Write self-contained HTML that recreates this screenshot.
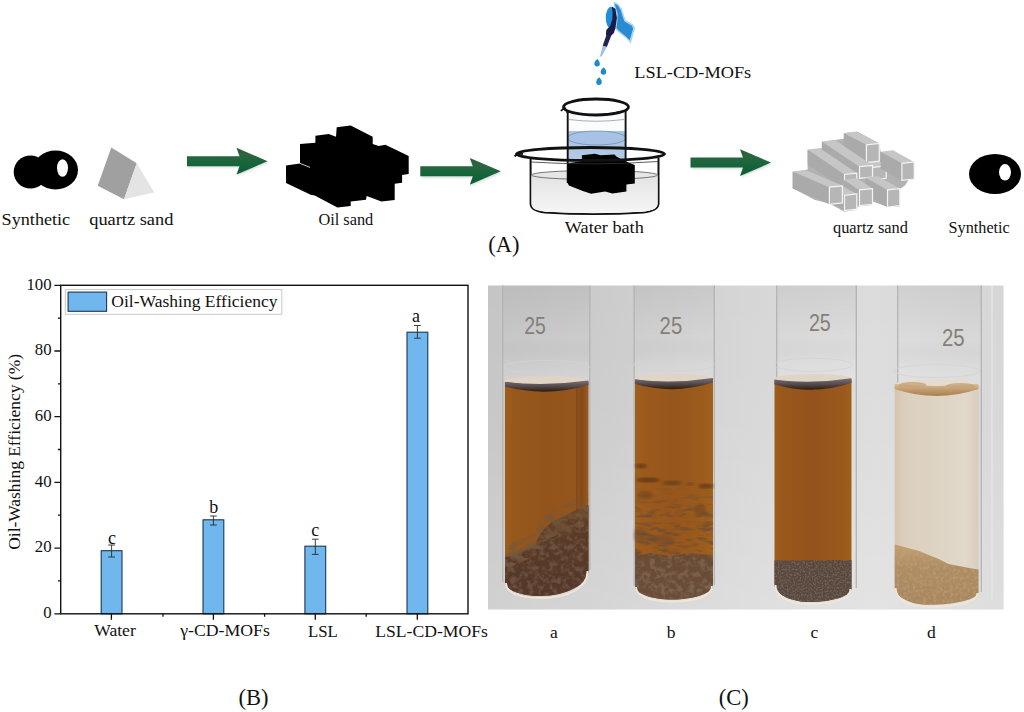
<!DOCTYPE html>
<html><head><meta charset="utf-8"><style>
html,body{margin:0;padding:0;background:#fff;width:1024px;height:712px;overflow:hidden;font-family:"Liberation Serif",serif;}
svg{display:block}
</style></head><body>
<svg width="1024" height="712" viewBox="0 0 1024 712">
<rect width="1024" height="712" fill="#fff"/>
<ellipse cx="30.5" cy="172" rx="16.8" ry="16.6" fill="#000"/>
<ellipse cx="55.5" cy="170" rx="22.5" ry="19.5" fill="#000"/>
<ellipse cx="62.5" cy="168" rx="5.5" ry="8.8" fill="#fff"/>
<polygon points="97.7,185.7 111.3,147.6 136.7,163.2 124,199.3" fill="#a0a0a0"/>
<polygon points="136.7,163.2 154.3,192.5 124,199.3" fill="#e4e4e4"/>
<defs><linearGradient id="agrad" x1="0" y1="0" x2="0" y2="1"><stop offset="0" stop-color="#2c5a3a"/><stop offset="0.25" stop-color="#2a6640"/><stop offset="0.7" stop-color="#12643a"/><stop offset="1" stop-color="#0e5a30"/></linearGradient><filter id="ashadow"><feGaussianBlur stdDeviation="1"/></filter></defs>
<polygon points="188.0,157.8 240.5,157.8 237.5,149.4 268.5,162.8 237.5,176.2 240.5,167.8 188.0,167.8" fill="#9aa89e" opacity="0.35" filter="url(#ashadow)"/><polygon points="187.0,156.2 239.5,156.2 236.5,147.8 267.5,161.2 236.5,174.6 239.5,166.2 187.0,166.2" fill="url(#agrad)"/>
<polygon points="421.3,167.9 473.8,167.9 470.8,159.5 501.8,172.9 470.8,186.3 473.8,177.9 421.3,177.9" fill="#9aa89e" opacity="0.35" filter="url(#ashadow)"/><polygon points="420.3,166.3 472.8,166.3 469.8,157.9 500.8,171.3 469.8,184.7 472.8,176.3 420.3,176.3" fill="url(#agrad)"/>
<polygon points="691.5,159.2 744.0,159.2 741.0,150.8 772.0,164.2 741.0,177.6 744.0,169.2 691.5,169.2" fill="#9aa89e" opacity="0.35" filter="url(#ashadow)"/><polygon points="690.5,157.6 743.0,157.6 740.0,149.2 771.0,162.6 740.0,176.0 743.0,167.6 690.5,167.6" fill="url(#agrad)"/>
<polygon points="286.0,165.4 300.0,163.4 300.0,144.0 315.4,142.7 315.4,135.7 328.7,134.0 336.0,136.7 336.7,127.3 350.7,125.6 372.7,136.7 372.7,144.0 378.7,146.0 385.4,144.7 408.7,156.0 408.7,174.0 402.1,175.0 402.1,182.7 394.7,183.8 394.7,200.0 381.4,201.6 366.7,196.0 366.0,199.8 350.7,201.6 350.7,206.0 337.4,207.6 314.7,195.4 310.7,194.7 286.0,183.0" fill="#000"/>
<line x1="300" y1="163.4" x2="310" y2="167.4" stroke="#fff" stroke-width="0.8"/>
<path d="M530.6,158 L530.6,204 Q531,211 545,212.5 Q594,215.5 643,212.5 Q658,211 658.5,204 L658.5,158" fill="#fff" stroke="#111" stroke-width="2"/>
<defs><linearGradient id="wg" x1="0" y1="0" x2="0" y2="1"><stop offset="0" stop-color="#e2e2e2"/><stop offset="1" stop-color="#f6f6f6"/></linearGradient><linearGradient id="bg" x1="0" y1="0" x2="0" y2="1"><stop offset="0" stop-color="#a9c3e2"/><stop offset="1" stop-color="#bcd0e8"/></linearGradient></defs>
<path d="M531.4,175 Q594,170 657.7,175 L657.7,204 Q657,210.5 643,211.7 Q594,214.6 545,211.7 Q531.5,210.5 531.4,204 Z" fill="url(#wg)"/>
<ellipse cx="594.5" cy="175" rx="63" ry="4.5" fill="#e6e6e6" stroke="#444" stroke-width="0.7"/>
<rect x="567.5" y="110" width="58.5" height="73" fill="#fbfcfd"/>
<path d="M567.5,131 L626,131 L626,183 L567.5,183 Z" fill="url(#bg)"/>
<ellipse cx="596.7" cy="138" rx="29.2" ry="7" fill="#a6c2e4" stroke="#6a7f99" stroke-width="0.6"/>
<line x1="567.7" y1="110" x2="567.7" y2="183" stroke="#111" stroke-width="1.9"/>
<line x1="625.6" y1="110" x2="625.6" y2="175" stroke="#111" stroke-width="1.9"/>
<path d="M569,119.5 Q596,123 624,119.5" fill="none" stroke="#777" stroke-width="0.6"/>
<ellipse cx="596" cy="107" rx="32.5" ry="8" fill="#fff" stroke="#111" stroke-width="2.8"/>
<path d="M561,111 Q563,108 566,108.5" fill="none" stroke="#111" stroke-width="1.8"/>
<path d="M566,112 Q596,118 627,110" fill="none" stroke="#111" stroke-width="1"/>
<polygon points="567.5,163.2 581.9,161.3 581.9,155.3 594.9,153.7 600.5,155.3 614.4,154.4 616.7,156.7 625.5,161.3 634.8,165.0 634.8,183.6 626.4,184.5 626.4,191.5 612.5,193.6 605.1,191.5 591.2,193.8 582.8,191.0 568.9,185.5 567.5,182.7" fill="#000"/>
<ellipse cx="590.5" cy="154" rx="74" ry="6.5" fill="none" stroke="#111" stroke-width="2.8"/>
<path d="M514.5,156.3 Q518,153 523,154" fill="none" stroke="#111" stroke-width="2"/>
<path d="M531,162 Q594,166 658,161.5" fill="none" stroke="#333" stroke-width="0.8"/>
<polygon points="613.5,1.5 617.9,3.5 622.0,9.1 624.0,15.4 625.8,20.2 633.3,24.4 635.1,28.1 632.3,38.2 630.8,43.6 627.0,38.9 617.9,31.8 614.9,28.6 615.9,21.5 616.4,13.9 614.4,7.3" fill="#a6d6f4"/>
<polygon points="614.4,3.8 617.7,5.3 620.7,10.1 622.5,16.2 624.5,21.5 631.8,25.7 633.1,28.4 630.6,37.3 629.5,40.2 626.5,36.9 618.4,30.3 616.4,27.8 617.4,21.2 617.7,13.9 615.9,7.8" fill="#2b8bd2"/>
<ellipse cx="611" cy="17.7" rx="5.2" ry="11" fill="#1f8fd8"/>
<polygon points="611.8,6.6 615.4,8.8 616.9,17.7 615.6,27.2 613.9,33.1 610.3,36.4 605.9,35.1 606.3,30.1 610.1,25.9 612.4,19.0 612.6,12.0" fill="#1c1c46"/>
<polygon points="606.8,33.9 611.3,35.6 606.8,47.0 602.7,45.8" fill="#22224c"/>
<polygon points="602.7,45.8 606.8,47.0 601.7,56.6 600.0,56.4" fill="#9cc0e6"/>
<path d="M597.4,59.0 Q600.0,61.6 599.9,63.6 A2.8,3 0 1 1 594.3,63.6 Q594.5,60.6 597.4,59.0 Z" fill="#1c8ccd"/>
<path d="M603.7,67.2 Q606.3,69.8 606.2,71.8 A2.8,3 0 1 1 600.6,71.8 Q600.8,68.8 603.7,67.2 Z" fill="#1c8ccd"/>
<path d="M599.3,77.3 Q601.9,79.9 601.8,81.9 A2.8,3 0 1 1 596.2,81.9 Q596.4,78.9 599.3,77.3 Z" fill="#1c8ccd"/>
<polygon points="793.2,172.2 807.6,169.4 807.6,150.3 821.9,148.2 821.9,142.1 834.9,140.0 843.8,138.7 843.8,133.2 857.5,131.8 879.3,143.5 880.7,152.3 893.0,151.0 913.5,162.2 913.5,178.3 908.1,180.4 905.3,185.2 899.8,189.0 899.8,206.4 887.5,207.0 872.5,201.6 872.5,205.0 857.5,206.4 856.8,209.8 844.5,211.8 829.4,203.6 815.1,199.9 793.2,188.6" fill="#b2b2b2"/>
<polygon points="872.5,167.4 872.5,179.7 850.6,164.6 850.6,152.3" fill="#aaaaaa"/><polygon points="872.5,167.4 886.2,166.0 864.3,151.0 850.6,152.3" fill="#c6c6c6"/><polygon points="872.5,167.4 886.2,166.0 886.2,178.3 872.5,179.7" fill="#b6b6b6" stroke="#f4f4f4" stroke-width="1.2"/>
<polygon points="866.4,144.8 866.4,162.6 843.8,150.7 843.8,132.9" fill="#aaaaaa"/><polygon points="866.4,144.8 879.3,143.5 856.8,131.6 843.8,132.9" fill="#c6c6c6"/><polygon points="866.4,144.8 879.3,143.5 879.3,161.2 866.4,162.6" fill="#b6b6b6" stroke="#f4f4f4" stroke-width="1.2"/>
<polygon points="901.9,163.3 901.9,180.4 880.7,168.8 880.7,151.7" fill="#aaaaaa"/><polygon points="901.9,163.3 914.2,161.9 893.0,150.3 880.7,151.7" fill="#c6c6c6"/><polygon points="901.9,163.3 914.2,161.9 914.2,179.0 901.9,180.4" fill="#b6b6b6" stroke="#f4f4f4" stroke-width="1.2"/>
<polygon points="859.5,166.7 859.5,178.3 821.9,153.0 821.9,141.4" fill="#aaaaaa"/><polygon points="859.5,166.7 872.5,165.3 834.9,140.0 821.9,141.4" fill="#c6c6c6"/><polygon points="859.5,166.7 872.5,165.3 872.5,177.0 859.5,178.3" fill="#b6b6b6" stroke="#f4f4f4" stroke-width="1.2"/>
<polygon points="844.5,174.5 844.5,189.3 807.6,164.4 807.6,149.6" fill="#aaaaaa"/><polygon points="844.5,174.5 856.8,173.1 819.9,148.2 807.6,149.6" fill="#c6c6c6"/><polygon points="844.5,174.5 856.8,173.1 856.8,187.9 844.5,189.3" fill="#b6b6b6" stroke="#f4f4f4" stroke-width="1.2"/>
<polygon points="887.5,189.9 887.5,207.0 865.7,194.7 865.7,177.6" fill="#aaaaaa"/><polygon points="887.5,189.9 899.8,188.6 878.0,176.3 865.7,177.6" fill="#c6c6c6"/><polygon points="887.5,189.9 899.8,188.6 899.8,205.7 887.5,207.0" fill="#b6b6b6" stroke="#f4f4f4" stroke-width="1.2"/>
<polygon points="859.5,189.9 859.5,205.7 843.8,195.4 843.8,179.7" fill="#aaaaaa"/><polygon points="859.5,189.9 872.5,188.6 856.8,178.3 843.8,179.7" fill="#c6c6c6"/><polygon points="859.5,189.9 872.5,188.6 872.5,204.3 859.5,205.7" fill="#b6b6b6" stroke="#f4f4f4" stroke-width="1.2"/>
<polygon points="844.5,195.4 844.5,210.5 826.0,200.2 826.0,185.2" fill="#aaaaaa"/><polygon points="844.5,195.4 856.8,194.0 838.3,183.8 826.0,185.2" fill="#c6c6c6"/><polygon points="844.5,195.4 856.8,194.0 856.8,209.1 844.5,210.5" fill="#b6b6b6" stroke="#f4f4f4" stroke-width="1.2"/>
<polygon points="829.4,187.2 829.4,204.3 792.5,188.6 792.5,171.5" fill="#aaaaaa"/><polygon points="829.4,187.2 842.4,185.8 805.5,170.1 792.5,171.5" fill="#c6c6c6"/><polygon points="829.4,187.2 842.4,185.8 842.4,202.9 829.4,204.3" fill="#b6b6b6" stroke="#f4f4f4" stroke-width="1.2"/>
<ellipse cx="995" cy="174" rx="26" ry="20" fill="#000"/>
<ellipse cx="1005" cy="172.3" rx="6" ry="8.3" fill="#fff"/>
<text x="1.6" y="224.6" font-size="17.2" textLength="68.6" lengthAdjust="spacingAndGlyphs" font-family="Liberation Serif" fill="#111" >Synthetic</text>
<text x="89.2" y="224.6" font-size="17.2" textLength="84.2" lengthAdjust="spacingAndGlyphs" font-family="Liberation Serif" fill="#111" >quartz sand</text>
<text x="318.4" y="224.9" font-size="16.3" textLength="54.9" lengthAdjust="spacingAndGlyphs" font-family="Liberation Serif" fill="#111" >Oil sand</text>
<text x="564.8" y="232.5" font-size="16.8" textLength="79" lengthAdjust="spacingAndGlyphs" font-family="Liberation Serif" fill="#111" >Water bath</text>
<text x="488.3" y="251.7" font-size="23" textLength="31.2" lengthAdjust="spacingAndGlyphs" font-family="Liberation Serif" fill="#111" >(A)</text>
<text x="634.3" y="78.2" font-size="17.6" textLength="116.9" lengthAdjust="spacingAndGlyphs" font-family="Liberation Serif" fill="#111" >LSL-CD-MOFs</text>
<text x="833" y="232.5" font-size="16.6" textLength="74.9" lengthAdjust="spacingAndGlyphs" font-family="Liberation Serif" fill="#111" >quartz sand</text>
<text x="948.6" y="232.5" font-size="16.6" textLength="61.2" lengthAdjust="spacingAndGlyphs" font-family="Liberation Serif" fill="#111" >Synthetic</text>
<rect x="101.2" y="550.7" width="20.8" height="63.1" fill="#6fb7ec" stroke="#1d3652" stroke-width="1.1"/>
<path d="M111.6,545.0 V557.0 M108.19999999999999,545.0 H115.0 M108.19999999999999,557.0 H115.0" stroke="#2a2a2a" stroke-width="0.9" fill="none"/>
<text x="108.0" y="544.3" font-size="18" font-family="Liberation Serif" fill="#111">c</text>
<rect x="203.0" y="519.8" width="20.8" height="94.0" fill="#6fb7ec" stroke="#1d3652" stroke-width="1.1"/>
<path d="M213.4,516.0 V525.0 M210.0,516.0 H216.8 M210.0,525.0 H216.8" stroke="#2a2a2a" stroke-width="0.9" fill="none"/>
<text x="209.2" y="513.4" font-size="18" font-family="Liberation Serif" fill="#111">b</text>
<rect x="304.9" y="546.2" width="20.8" height="67.6" fill="#6fb7ec" stroke="#1d3652" stroke-width="1.1"/>
<path d="M315.3,539.2 V554.4 M311.90000000000003,539.2 H318.7 M311.90000000000003,554.4 H318.7" stroke="#2a2a2a" stroke-width="0.9" fill="none"/>
<text x="311.3" y="536.0" font-size="18" font-family="Liberation Serif" fill="#111">c</text>
<rect x="407.0" y="332.2" width="20.8" height="281.6" fill="#6fb7ec" stroke="#1d3652" stroke-width="1.1"/>
<path d="M417.4,325.5 V338.2 M414.0,325.5 H420.79999999999995 M414.0,338.2 H420.79999999999995" stroke="#2a2a2a" stroke-width="0.9" fill="none"/>
<text x="412.0" y="321.5" font-size="18" font-family="Liberation Serif" fill="#111">a</text>
<rect x="60.7" y="285.3" width="407.3" height="328.49999999999994" fill="none" stroke="#111" stroke-width="1.4"/>
<text x="51.6" y="618.1" font-size="16.8" text-anchor="end" font-family="Liberation Serif" fill="#111">0</text>
<text x="51.6" y="552.4" font-size="16.8" text-anchor="end" font-family="Liberation Serif" fill="#111">20</text>
<text x="51.6" y="486.7" font-size="16.8" text-anchor="end" font-family="Liberation Serif" fill="#111">40</text>
<text x="51.6" y="421.0" font-size="16.8" text-anchor="end" font-family="Liberation Serif" fill="#111">60</text>
<text x="51.6" y="355.3" font-size="16.8" text-anchor="end" font-family="Liberation Serif" fill="#111">80</text>
<text x="51.6" y="289.6" font-size="16.8" text-anchor="end" font-family="Liberation Serif" fill="#111">100</text>
<path d="M54.400000000000006,613.8 H60.7 M57.900000000000006,580.9 H60.7 M54.400000000000006,548.1 H60.7 M57.900000000000006,515.2 H60.7 M54.400000000000006,482.4 H60.7 M57.900000000000006,449.5 H60.7 M54.400000000000006,416.7 H60.7 M57.900000000000006,383.9 H60.7 M54.400000000000006,351.0 H60.7 M57.900000000000006,318.1 H60.7 M54.400000000000006,285.3 H60.7 M111.4,613.8 V619.8 M213.4,613.8 V619.8 M315.3,613.8 V619.8 M417.3,613.8 V619.8 M163.0,613.8 V616.8 M264.6,613.8 V616.8 M366.2,613.8 V616.8" stroke="#111" stroke-width="1.3" fill="none"/>
<text x="94.2" y="635.6" font-size="17.5" textLength="41.6" lengthAdjust="spacingAndGlyphs" font-family="Liberation Serif" fill="#111" >Water</text>
<text x="180.2" y="636.0" font-size="17.5" textLength="89.6" lengthAdjust="spacingAndGlyphs" font-family="Liberation Serif" fill="#111" >γ-CD-MOFs</text>
<text x="308.0" y="636.5" font-size="17.5" textLength="29.9" lengthAdjust="spacingAndGlyphs" font-family="Liberation Serif" fill="#111" >LSL</text>
<text x="375.3" y="636.5" font-size="17.5" textLength="112.6" lengthAdjust="spacingAndGlyphs" font-family="Liberation Serif" fill="#111" >LSL-CD-MOFs</text>
<rect x="65.3" y="289.6" width="216.5" height="24.7" fill="#fff" stroke="#c8c8c8" stroke-width="1"/>
<rect x="68.1" y="292.1" width="38.5" height="19.2" fill="#6fb7ec" stroke="#1d3652" stroke-width="1.1"/>
<text x="111.3" y="306.9" font-size="17.2" textLength="166.2" lengthAdjust="spacingAndGlyphs" font-family="Liberation Serif" fill="#111" >Oil-Washing Efficiency</text>
<text transform="translate(20.2,549.8) rotate(-90)" font-size="17.5" textLength="195.8" lengthAdjust="spacingAndGlyphs" font-family="Liberation Serif" fill="#111">Oil-Washing Efficiency (%)</text>
<text x="238.4" y="705.2" font-size="23" textLength="30" lengthAdjust="spacingAndGlyphs" font-family="Liberation Serif" fill="#111" >(B)</text>
<defs>
<linearGradient id="phbg" x1="0" y1="0" x2="1" y2="0"><stop offset="0" stop-color="#c5c5c5"/><stop offset="0.24" stop-color="#cccccc"/><stop offset="0.5" stop-color="#d6d6d6"/><stop offset="0.75" stop-color="#dcdcdc"/><stop offset="1" stop-color="#d6d6d6"/></linearGradient>
<linearGradient id="phv" x1="0" y1="0" x2="0" y2="1"><stop offset="0" stop-color="#fff" stop-opacity="0"/><stop offset="0.4" stop-color="#fff" stop-opacity="0.05"/><stop offset="1" stop-color="#fff" stop-opacity="0.2"/></linearGradient>
<linearGradient id="amba" x1="0" y1="0" x2="1" y2="0"><stop offset="0" stop-color="#9c5e1c"/><stop offset="0.1" stop-color="#98581c"/><stop offset="0.5" stop-color="#92541c"/><stop offset="0.85" stop-color="#94561c"/><stop offset="0.92" stop-color="#84481a"/><stop offset="1" stop-color="#9a5c1e"/></linearGradient>
<linearGradient id="ambb" x1="0" y1="0" x2="1" y2="0"><stop offset="0" stop-color="#a0601c"/><stop offset="0.1" stop-color="#9c5a1c"/><stop offset="0.5" stop-color="#96561c"/><stop offset="0.9" stop-color="#9c5c1c"/><stop offset="1" stop-color="#a2621c"/></linearGradient>
<linearGradient id="ambc" x1="0" y1="0" x2="1" y2="0"><stop offset="0" stop-color="#9e5e1a"/><stop offset="0.1" stop-color="#9a581c"/><stop offset="0.5" stop-color="#94521c"/><stop offset="0.9" stop-color="#9a5a1c"/><stop offset="1" stop-color="#a0601a"/></linearGradient>
<linearGradient id="pale" x1="0" y1="0" x2="1" y2="0"><stop offset="0" stop-color="#d4c4b0"/><stop offset="0.12" stop-color="#dccfbe"/><stop offset="0.5" stop-color="#ded4c4"/><stop offset="0.85" stop-color="#e2d8ca"/><stop offset="1" stop-color="#d8ccbc"/></linearGradient>
<linearGradient id="glass" x1="0" y1="0" x2="1" y2="0"><stop offset="0" stop-color="#000"/><stop offset="0.05" stop-color="#000"/><stop offset="1" stop-color="#000"/></linearGradient>
<linearGradient id="band" x1="0" y1="0" x2="0" y2="1"><stop offset="0" stop-color="#7a6e70"/><stop offset="0.4" stop-color="#5e5458"/><stop offset="0.75" stop-color="#42342e"/><stop offset="1" stop-color="#2e1c12"/></linearGradient>
<linearGradient id="bandd" x1="0" y1="0" x2="0" y2="1"><stop offset="0" stop-color="#d8bc98"/><stop offset="0.5" stop-color="#c09a6c"/><stop offset="1" stop-color="#a88050"/></linearGradient>
<linearGradient id="seda" x1="0" y1="0" x2="0" y2="1"><stop offset="0" stop-color="#6a4424"/><stop offset="0.3" stop-color="#5a3a26"/><stop offset="1" stop-color="#56382a"/></linearGradient>
<linearGradient id="sedb" x1="0" y1="0" x2="0" y2="1"><stop offset="0" stop-color="#6a4a32"/><stop offset="1" stop-color="#6a4e3a"/></linearGradient>
<linearGradient id="sedc" x1="0" y1="0" x2="0" y2="1"><stop offset="0" stop-color="#5a463a"/><stop offset="1" stop-color="#584840"/></linearGradient>
<linearGradient id="sedd" x1="0" y1="0" x2="0" y2="1"><stop offset="0" stop-color="#c0a070"/><stop offset="0.4" stop-color="#ae8c64"/><stop offset="1" stop-color="#a88660"/></linearGradient>
<filter id="mott" x="0" y="0" width="1" height="1" color-interpolation-filters="sRGB"><feTurbulence type="fractalNoise" baseFrequency="0.18" numOctaves="3" seed="3"/><feColorMatrix type="matrix" values="0 0 0 0 0.56  0 0 0 0 0.49  0 0 0 0 0.42  0 0 0 -3.6 2.05"/><feComposite in2="SourceGraphic" operator="in"/></filter>
<filter id="mottd" x="0" y="0" width="1" height="1" color-interpolation-filters="sRGB"><feTurbulence type="fractalNoise" baseFrequency="0.3" numOctaves="2" seed="9"/><feColorMatrix type="matrix" values="0 0 0 0 0.78  0 0 0 0 0.66  0 0 0 0 0.5  0 0 0 -3 1.7"/><feComposite in2="SourceGraphic" operator="in"/></filter>
<filter id="blt" x="0" y="0" width="1" height="1" color-interpolation-filters="sRGB"><feTurbulence type="fractalNoise" baseFrequency="0.07 0.22" numOctaves="3" seed="12"/><feColorMatrix type="matrix" values="0 0 0 0 0.42  0 0 0 0 0.30  0 0 0 0 0.20  0 0 0 3.4 -1.62"/><feGaussianBlur stdDeviation="0.5"/><feComposite in2="SourceGraphic" operator="in"/></filter>
<filter id="blt2" x="0" y="0" width="1" height="1" color-interpolation-filters="sRGB"><feTurbulence type="fractalNoise" baseFrequency="0.09 0.16" numOctaves="3" seed="5"/><feColorMatrix type="matrix" values="0 0 0 0 0.45  0 0 0 0 0.34  0 0 0 0 0.24  0 0 0 3.5 -1.3"/><feGaussianBlur stdDeviation="0.6"/><feComposite in2="SourceGraphic" operator="in"/></filter>
<linearGradient id="fadeb" x1="0" y1="0" x2="0" y2="1"><stop offset="0" stop-color="#000"/><stop offset="1" stop-color="#000"/></linearGradient>
<linearGradient id="dens" x1="0" y1="0" x2="0" y2="1"><stop offset="0" stop-color="#000" stop-opacity="0.15"/><stop offset="0.35" stop-color="#000" stop-opacity="0.75"/><stop offset="1" stop-color="#000" stop-opacity="1"/></linearGradient>
<filter id="mottf" x="0" y="0" width="1" height="1" color-interpolation-filters="sRGB"><feTurbulence type="fractalNoise" baseFrequency="0.55" numOctaves="2" seed="4"/><feColorMatrix type="matrix" values="0 0 0 0 0.52  0 0 0 0 0.46  0 0 0 0 0.42  0 0 0 -3.4 1.95"/><feComposite in2="SourceGraphic" operator="in"/></filter>
<filter id="bl1"><feGaussianBlur stdDeviation="0.7"/></filter>
<filter id="bl2"><feGaussianBlur stdDeviation="1.5"/></filter>
<filter id="bl3"><feGaussianBlur stdDeviation="2.5"/></filter>
<linearGradient id="gl_v" x1="0" y1="0" x2="0" y2="1"><stop offset="0" stop-color="#000" stop-opacity="0.05"/><stop offset="0.55" stop-color="#000" stop-opacity="0.0"/><stop offset="0.8" stop-color="#fff" stop-opacity="0.06"/><stop offset="1" stop-color="#fff" stop-opacity="0.16"/></linearGradient>
</defs>
<rect x="488" y="285.5" width="515.6" height="324.0" fill="url(#phbg)"/>
<rect x="488" y="285.5" width="515.6" height="324.0" fill="url(#phv)"/>
<line x1="992" y1="285.5" x2="992" y2="600" stroke="#e4e4e4" stroke-width="1.5"/>
<path d="M502,285.5 L590.5,285.5 Z" fill="none"/>
<rect x="502" y="285.5" width="88.5" height="96.5" fill="url(#gl_v)"/>
<line x1="502.7" y1="285.5" x2="502.7" y2="582" stroke="#b4b4b4" stroke-width="1.3"/>
<line x1="589.8" y1="285.5" x2="589.8" y2="570" stroke="#b4b4b4" stroke-width="1.3"/>
<ellipse cx="546.75" cy="367" rx="42.75" ry="6.5" fill="none" stroke="#d2d3d4" stroke-width="0.8"/>
<path d="M505,382 L588.5,382 L588.5,570 C588.5,584.3 566.7,596 540,596 C520.8,596 505,589.7 505,582 Z" fill="url(#amba)"/>
<rect x="576" y="388" width="1.5" height="178.0" fill="#5a3a10" opacity="0.35" filter="url(#bl1)"/>
<path d="M505,557 L505,557 L512,555.7 L522,551 L535.4,545.6 L538,538 L543.9,528.8 L552,522 L565.8,515.3 L576,510 L588.5,505 L588.5,570 C588.5,584.3 566.7,596 540,596 C520.8,596 505,589.7 505,582 Z" fill="url(#seda)" filter="url(#bl1)"/>
<path d="M505,557 L505,557 L512,555.7 L522,551 L535.4,545.6 L538,538 L543.9,528.8 L552,522 L565.8,515.3 L576,510 L588.5,505 L588.5,570 C588.5,584.3 566.7,596 540,596 C520.8,596 505,589.7 505,582 Z" fill="#000" filter="url(#mott)" opacity="0.35"/>
<path d="M505,545 L512,543 L535,533 L544,516 L566,503 L588.5,492 L588.5,520 L566,530 L544,542 L535,556 L512,566 L505,568 Z" fill="url(#dens)" filter="url(#blt2)"/>
<ellipse cx="560" cy="528" rx="12" ry="6" fill="#6a4a2c" opacity="0.3" filter="url(#bl2)"/>
<path d="M506,583 C506,592.4 519.0,598 540,598 C569.1,598 587.5,587.6 587.5,571" fill="none" stroke="#efe6da" stroke-width="1.8"/>
<ellipse cx="546.75" cy="380.5" rx="41.75" ry="4.2" fill="#e0d4c4"/>
<path d="M505,382 Q546.75,386.4 588.5,380.5 L588.5,385.0 Q546.75,397.5 505,386.5 Z" fill="url(#band)" filter="url(#bl1)"/>
<text x="524.2" y="334.3" font-family="Liberation Sans" font-size="23.5" fill="#857f78" textLength="21.6" lengthAdjust="spacingAndGlyphs">25</text>
<path d="M633.5,285.5 L715,285.5 Z" fill="none"/>
<rect x="633.5" y="285.5" width="81.5" height="94.0" fill="url(#gl_v)"/>
<line x1="634.2" y1="285.5" x2="634.2" y2="586" stroke="#b4b4b4" stroke-width="1.3"/>
<line x1="714.3" y1="285.5" x2="714.3" y2="585" stroke="#b4b4b4" stroke-width="1.3"/>
<ellipse cx="674.0" cy="364.5" rx="40.0" ry="6.5" fill="none" stroke="#d2d3d4" stroke-width="0.8"/>
<path d="M635,379.5 L713,379.5 L713,585 C713,593.0 694.5,599.5 672,599.5 C651.6,599.5 635,593.4 635,586 Z" fill="url(#ambb)"/>
<path d="M635,556 L635,556 L650,553 L670,556 L690,553 L713,556 L713,585 C713,593.0 694.5,599.5 672,599.5 C651.6,599.5 635,593.4 635,586 Z" fill="url(#sedb)" filter="url(#bl1)"/>
<path d="M635,556 L635,556 L650,553 L670,556 L690,553 L713,556 L713,585 C713,593.0 694.5,599.5 672,599.5 C651.6,599.5 635,593.4 635,586 Z" fill="#000" filter="url(#mott)" opacity="0.45"/>
<path d="M635,488 L713,488 L713,560 L635,560 Z" fill="url(#dens)" filter="url(#blt)"/>
<ellipse cx="641" cy="466" rx="6" ry="2" fill="#5a3418" opacity="0.8" filter="url(#bl2)"/>
<ellipse cx="648" cy="480" rx="12" ry="2.5" fill="#5e3618" opacity="0.85" filter="url(#bl2)"/>
<ellipse cx="672" cy="483" rx="10" ry="2.2" fill="#603a1c" opacity="0.75" filter="url(#bl2)"/>
<ellipse cx="706" cy="486" rx="8" ry="2.2" fill="#5a3418" opacity="0.8" filter="url(#bl2)"/>
<ellipse cx="690" cy="484" rx="4" ry="1.5" fill="#603a1c" opacity="0.6" filter="url(#bl2)"/>
<ellipse cx="645" cy="495" rx="8" ry="4" fill="#6a4224" opacity="0.55" filter="url(#bl2)"/>
<ellipse cx="700" cy="510" rx="6" ry="6" fill="#6a4224" opacity="0.5" filter="url(#bl2)"/>
<ellipse cx="662" cy="540" rx="12" ry="5" fill="#6a4830" opacity="0.5" filter="url(#bl2)"/>
<ellipse cx="640" cy="535" rx="6" ry="8" fill="#6a4830" opacity="0.5" filter="url(#bl2)"/>
<path d="M636,587 C636,596.1 649.8,601.5 672,601.5 C696.6,601.5 712,595.7 712,586" fill="none" stroke="#efe6da" stroke-width="1.8"/>
<ellipse cx="674.0" cy="378.0" rx="39.0" ry="4.2" fill="#e0d4c4"/>
<path d="M635,379.5 Q674.0,383.9 713,378.0 L713,382.5 Q674.0,395.0 635,384.0 Z" fill="url(#band)" filter="url(#bl1)"/>
<text x="659.6" y="334.1" font-family="Liberation Sans" font-size="23.5" fill="#857f78" textLength="22.6" lengthAdjust="spacingAndGlyphs">25</text>
<path d="M776,285.5 L857,285.5 Z" fill="none"/>
<rect x="776" y="285.5" width="81.0" height="94.3" fill="url(#gl_v)"/>
<line x1="776.7" y1="285.5" x2="776.7" y2="584" stroke="#b4b4b4" stroke-width="1.3"/>
<line x1="856.3" y1="285.5" x2="856.3" y2="588" stroke="#b4b4b4" stroke-width="1.3"/>
<ellipse cx="813.0" cy="364.8" rx="39.5" ry="6.5" fill="none" stroke="#d2d3d4" stroke-width="0.8"/>
<path d="M774.5,379.8 L851.5,379.8 L851.5,588 C851.5,595.7 832.8,602 810,602 C790.5,602 774.5,593.9 774.5,584 Z" fill="url(#ambc)"/>
<path d="M774.5,560.5 L774.5,560.5 L851.5,560 L851.5,588 C851.5,595.7 832.8,602 810,602 C790.5,602 774.5,593.9 774.5,584 Z" fill="url(#sedc)" filter="url(#bl1)"/>
<path d="M774.5,560.5 L774.5,560.5 L851.5,560 L851.5,588 C851.5,595.7 832.8,602 810,602 C790.5,602 774.5,593.9 774.5,584 Z" fill="#000" filter="url(#mottf)" opacity="0.55"/>
<path d="M775.5,585 C775.5,596.8 788.7,604 810,604 C834.9,604 850.5,598.4 850.5,589" fill="none" stroke="#efe6da" stroke-width="1.8"/>
<ellipse cx="813.0" cy="378.3" rx="38.5" ry="4.2" fill="#e0d4c4"/>
<path d="M774.5,379.8 Q813.0,384.2 851.5,378.3 L851.5,382.8 Q813.0,396.1 774.5,384.3 Z" fill="url(#band)" filter="url(#bl1)"/>
<text x="808.9" y="331.4" font-family="Liberation Sans" font-size="23.5" fill="#857f78" textLength="21.9" lengthAdjust="spacingAndGlyphs">25</text>
<path d="M897,285.5 L982,285.5 Z" fill="none"/>
<rect x="897" y="285.5" width="85.0" height="100.5" fill="url(#gl_v)"/>
<line x1="897.7" y1="285.5" x2="897.7" y2="587" stroke="#b4b4b4" stroke-width="1.3"/>
<line x1="981.3" y1="285.5" x2="981.3" y2="592" stroke="#b4b4b4" stroke-width="1.3"/>
<ellipse cx="936.6" cy="371" rx="42.89999999999998" ry="6.5" fill="none" stroke="#d2d3d4" stroke-width="0.8"/>
<path d="M894.7,386 L978.5,386 L978.5,592 C978.5,599.0 956.2,604.8 929,604.8 C910.1,604.8 894.7,596.8 894.7,587 Z" fill="url(#pale)"/>
<path d="M894.7,544.5 L894.7,544.5 L919,551 L938.6,559 L948.4,564 L974.5,569 L978.5,569.5 L978.5,592 C978.5,599.0 956.2,604.8 929,604.8 C910.1,604.8 894.7,596.8 894.7,587 Z" fill="url(#sedd)" filter="url(#bl1)"/>
<path d="M894.7,544.5 L894.7,544.5 L919,551 L938.6,559 L948.4,564 L974.5,569 L978.5,569.5 L978.5,592 C978.5,599.0 956.2,604.8 929,604.8 C910.1,604.8 894.7,596.8 894.7,587 Z" fill="#000" filter="url(#mottd)" opacity="0.45"/>
<path d="M895.7,588 C895.7,599.7 908.4,606.8 929,606.8 C958.7,606.8 977.5,601.7 977.5,593" fill="none" stroke="#efe6da" stroke-width="1.8"/>
<ellipse cx="936.6" cy="384" rx="41.89999999999998" ry="4.2" fill="#e4dace"/>
<path d="M894.7,384 Q936.6,388.0 978.5,384 L978.5,389 Q936.6,403.0 894.7,389 Z" fill="url(#bandd)" filter="url(#bl1)"/>
<ellipse cx="912.7" cy="385" rx="14" ry="3" fill="#c8a47a" opacity="0.8" filter="url(#bl1)"/>
<ellipse cx="960.5" cy="386" rx="15" ry="3" fill="#c8a47a" opacity="0.8" filter="url(#bl1)"/>
<text x="941.9" y="345.9" font-family="Liberation Sans" font-size="23.5" fill="#857f78" textLength="22.7" lengthAdjust="spacingAndGlyphs">25</text>
<text x="553.9" y="638.4" font-size="17.5" text-anchor="middle" font-family="Liberation Serif" fill="#111">a</text>
<text x="671.2" y="638.4" font-size="17.5" text-anchor="middle" font-family="Liberation Serif" fill="#111">b</text>
<text x="814.5" y="638.4" font-size="17.5" text-anchor="middle" font-family="Liberation Serif" fill="#111">c</text>
<text x="931.4" y="638.4" font-size="17.5" text-anchor="middle" font-family="Liberation Serif" fill="#111">d</text>
<text x="718.7" y="705.2" font-size="23" textLength="30" lengthAdjust="spacingAndGlyphs" font-family="Liberation Serif" fill="#111" >(C)</text>
</svg>
</body></html>
